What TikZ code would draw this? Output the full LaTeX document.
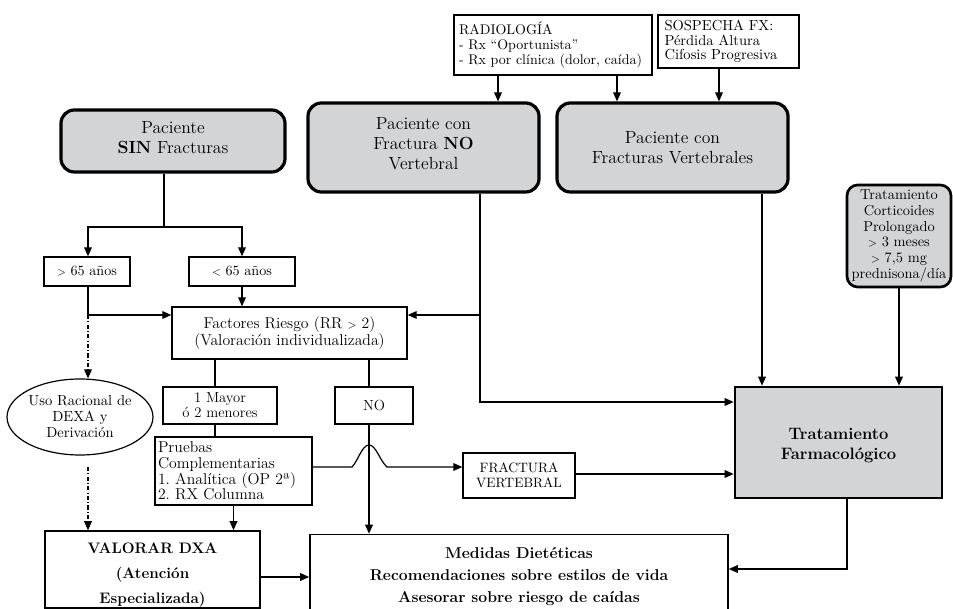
\documentclass[tikz,border=0pt]{standalone}
\usetikzlibrary{arrows.meta,shapes.geometric}
\definecolor{boxgray}{RGB}{211,212,214}
\newcommand\sgt{{\fontsize{8}{8}\selectfont>}}
\newcommand\slt{{\fontsize{8}{8}\selectfont<}}
\newcommand\dpt[1]{\rule[-#1]{0pt}{#1}}
\tikzset{
  conn/.style={line width=0.9pt},
  tip/.style={-{Triangle[length=6.8pt,width=5.8pt]}},
  arr/.style={conn,tip},
  dd/.style={conn,tip,dash pattern=on 3.2pt off 1.6pt on 0.8pt off 1.6pt},
  plainbox/.style={draw,line width=1pt,inner sep=0pt,align=center},
  graybox/.style={draw,line width=2.4pt,fill=boxgray,rounded corners=10pt,inner sep=0pt,align=center,font=\fontsize{13.2}{15}\selectfont},
  sz/.style 2 args={minimum width=#1,minimum height=#2},
}
\frenchspacing
\begin{document}
\begin{tikzpicture}[x=0.75pt,y=-0.75pt]
\useasboundingbox (0,0) rectangle (953,609);
\clip (0,0) rectangle (953,609);

% top small boxes
\node[plainbox,align=left,text width=141pt,inner xsep=3.75pt,minimum height=45pt,font=\fontsize{10.5}{11.3}\selectfont] (rad) at (553,45)
  {RADIOLOGÍA\\- Rx “Oportunista”\\- Rx por clínica (dolor, caída)};
\node[plainbox,align=left,text width=96pt,inner xsep=4.9pt,minimum height=39.75pt,font=\fontsize{10.9}{11}\selectfont] (sos) at (728.5,41.5)
  {SOSPECHA FX:\\Pérdida Altura\\Cifosis Progresiva};

% gray patient boxes
\node[graybox,sz={168pt}{46.5pt}] (sin) at (173,141) {Paciente\\\textbf{SIN} Fracturas\dpt{6pt}};
\node[graybox,sz={173.25pt}{66.75pt}] (fnv) at (423.5,147.5) {Paciente con\\Fractura \textbf{NO}\\Vertebral\dpt{6pt}};
\node[graybox,sz={173.25pt}{66.75pt}] (fv) at (672.5,147.5) {Paciente con\\Fracturas Vertebrales};
\node[graybox,sz={78pt}{76.5pt},rounded corners=8pt,line width=2pt,font=\fontsize{10.8}{11.8}\selectfont] (cort) at (899,236)
  {Tratamiento\\Corticoides\\Prolongado\\\sgt{} 3 meses\\\sgt{} 7,5 mg\\prednisona/día};

% age boxes
\node[plainbox,sz={64.5pt}{21.75pt},font=\fontsize{10.6}{11}\selectfont] (g65) at (87,271.5) {\sgt{} 65 años};
\node[plainbox,sz={79.5pt}{21.75pt},font=\fontsize{10.6}{11}\selectfont] (l65) at (242,271.5) {\slt{} 65 años};

% risk factors
\node[plainbox,sz={176.25pt}{39pt},font=\fontsize{11.8}{12.5}\selectfont] (fr) at (289.5,333)
  {Factores Riesgo (RR \sgt{} 2)\\(Valoración individualizada)};
\node[plainbox,sz={85.5pt}{27.75pt},font=\fontsize{11}{11.3}\selectfont] (may) at (220,405.5) {1 Mayor\\ó 2 menores};
\node[plainbox,sz={58.5pt}{27.75pt},font=\fontsize{11}{11.3}\selectfont] (no) at (374,405.5) {NO};
\node[plainbox,align=left,text width=113.25pt,inner xsep=2.25pt,minimum height=51pt,font=\fontsize{11.8}{11.8}\selectfont] (pru) at (233.5,471)
  {Pruebas\\Complementarias\\1. Analítica (OP 2ª)\\2. RX Columna};
\node[plainbox,sz={84pt}{33.75pt},font=\fontsize{10.2}{11.25}\selectfont] (fxv) at (519,475.5) {FRACTURA\\VERTEBRAL};

% treatment
\node[draw,line width=2pt,fill=boxgray,inner sep=0pt,align=center,sz={155.25pt}{83.25pt},font=\fontsize{12.4}{15}\selectfont\bfseries] (trat) at (838.5,442.5)
  {\rule{0pt}{13pt}Tratamiento\\Farmacológico};

% ellipse
\node[draw,line width=0.9pt,ellipse,inner sep=0pt,align=center,sz={103.5pt}{57pt},font=\fontsize{10.9}{12}\selectfont] (ell) at (80,417)
  {Uso Racional de\\DEXA y\\Derivación};

% bottom boxes
\node[plainbox,line width=1.4pt,sz={161.25pt}{56.25pt},font=\fontsize{11.4}{18.8}\selectfont\bfseries] (val) at (152.5,569.5)
  {\rule{0pt}{17pt}VALORAR DXA\\(Atención\\Especializada)};
\node[plainbox,line width=1.2pt,sz={313.5pt}{63pt},font=\fontsize{11.8}{16.5}\selectfont\bfseries] (med) at (519,576.5)
  {Medidas Dietéticas\\Recomendaciones sobre estilos de vida\\Asesorar sobre riesgo de caídas};

% helper coordinates
\coordinate (j1) at (164,227);
\coordinate (j2) at (88,315);
\coordinate (j3) at (88,467);
\coordinate (j4) at (480,402);
\coordinate (j5) at (480,315);
\coordinate (xa) at (498,0);
\coordinate (xb) at (617,0);
\coordinate (xc) at (719,0);
\coordinate (xd) at (762,0);
\coordinate (xe) at (215,0);
\coordinate (xf) at (369,0);
\coordinate (bL) at (352,467);
\coordinate (bR) at (387,467);
\coordinate (bT) at (369,445);
\coordinate (yv) at (0,474);
\coordinate (yw) at (0,577);
\coordinate (j6) at (847,569);

% connectors
\draw[arr] (rad.south -| xa) -- (fnv.north -| xa);
\draw[arr] (rad.south -| xb) -- (fv.north -| xb);
\draw[arr] (sos.south -| xc) -- (fv.north -| xc);

\draw[conn] (sin.south -| j1) -- (j1);
\draw[arr] (j1) -| (g65.north -| j2);
\draw[arr] (j1) -| (l65.north);
\draw[arr] (l65.south) -- (l65.south |- fr.north);

\draw[conn] (g65.south -| j2) -- (j2);
\draw[arr] (j2) -- (j2 -| fr.west);
\draw[dd] (j2) -- (j2 |- ell.north);
\draw[dd] (j3) -- (j3 |- val.north);

\draw[arr] (fnv.south -| j4) -- (j4) -- (j4 -| trat.west);
\draw[arr] (j5) -- (j5 -| fr.east);
\draw[arr] (fv.south -| xd) -- (trat.north -| xd);
\draw[arr] (cort.south) -- (cort.south |- trat.north);

\draw[conn] (fr.south -| xe) -- (may.north -| xe);
\draw[conn] (may.south -| xe) -- (pru.north -| xe);
\draw[conn] (fr.south -| xf) -- (no.north -| xf);
\draw[arr] (no.south -| xf) -- (med.north -| xf);

\draw[arr] (pru.east |- bL) -- (bL) .. controls (358,461) and (362,445) .. (bT)
  .. controls (376,445) and (380,461) .. (bR) -- (bR -| fxv.west);
\draw[arr] (pru.south) -- (pru.south |- val.north);
\draw[arr] (fxv.east |- yv) -- (trat.west |- yv);
\draw[arr] (val.east |- yw) -- (med.west |- yw);
\draw[arr] (trat.south -| j6) -- (j6) -- (j6 -| med.east);
\end{tikzpicture}
\end{document}
